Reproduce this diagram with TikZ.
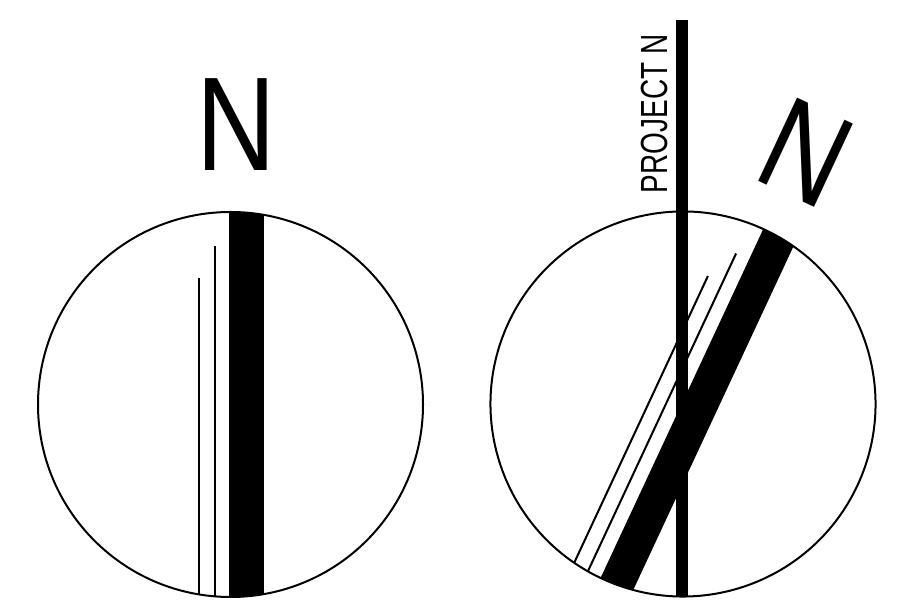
\documentclass[tikz,border=0pt]{standalone}
\usepackage{fontspec}
\setmainfont{Liberation Sans}
\usepackage{graphicx}
\tikzset{
  dial/.style={line width=0.04cm},
  northbar/.style={fill=black},
  meridian/.style={line width=0.04cm},
  projectline/.style={line width=0.24cm},
  northlabel/.style={inner sep=0pt, font=\fontsize{76}{80}\selectfont},
  projectlabel/.style={inner sep=0pt, font=\fontsize{21.5}{24}\selectfont}
}
\begin{document}
\begin{tikzpicture}
\useasboundingbox (0,0) rectangle (17.96,12.02);
% true north dial
\begin{scope}[shift={(4.61,3.93)}]
  \begin{scope}
    \clip (0,0) circle (3.85);
    \fill[northbar] (-0.024,-4) rectangle (0.67,4);
    \draw[meridian] (-0.63,2.53) -- (-0.63,-4);
    \draw[meridian] (-0.31,3.176) -- (-0.31,-4);
  \end{scope}
  \draw[dial] (0,0) circle (3.85);
  \node[northlabel] (trueN) at (0.106,5.59) {\scalebox{0.825}[1]{N}};
\end{scope}
% rotated dial
\begin{scope}[shift={(13.66,3.94)}, rotate=-25]
  \begin{scope}
    \clip (0,0) circle (3.85);
    \fill[northbar] (-0.024,-4) rectangle (0.67,4);
    \draw[meridian] (-0.63,2.53) -- (-0.63,-4);
    \draw[meridian] (-0.31,3.176) -- (-0.31,-4);
  \end{scope}
  \draw[dial] (0,0) circle (3.85);
  \node[northlabel, rotate=-25] (rotN) at (0.106,5.59) {\scalebox{0.825}[1]{N}};
\end{scope}
% project north
\coordinate (ptop) at (13.646,11.62);
\coordinate (pbot) at (13.646,0.09);
\draw[projectline] (ptop) -- (pbot);
\node[projectlabel, rotate=90, anchor=south] (projtext) at (13.36,9.74) {\scalebox{0.74}[1]{PROJECT N}};
\end{tikzpicture}
\end{document}
